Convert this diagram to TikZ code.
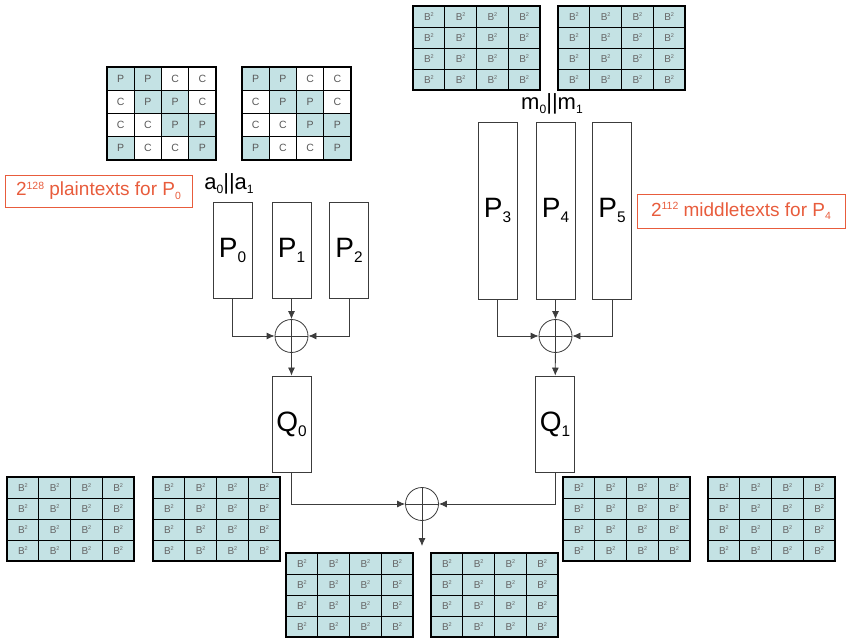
\documentclass[tikz,border=0pt]{standalone}
\usepackage{fontspec}
\setmainfont{Liberation Sans}
\usetikzlibrary{arrows.meta, positioning}
\definecolor{cellblue}{RGB}{196,226,228}
\definecolor{pcP}{RGB}{196,226,228}
\definecolor{pcC}{RGB}{255,255,255}
\definecolor{notered}{RGB}{232,92,60}
\definecolor{linegray}{RGB}{60,60,60}
\newcommand{\idx}[1]{\raisebox{-0.18em}{\scalebox{0.55}{#1}}}
\newcommand{\pw}[1]{\raisebox{0.33em}{\scalebox{0.55}{#1}}}

\begin{document}
\begin{tikzpicture}[x=1pt, y=-1pt,
    perm/.style={draw=linegray, line width=0.8pt, minimum width=39pt, inner sep=0pt, font=\fontsize{28}{28}\selectfont},
    xorop/.style={circle, draw=linegray, line width=0.8pt, minimum size=33pt, inner sep=0pt},
    arr/.style={draw=linegray, line width=0.8pt, -{Latex[length=8pt,width=7pt]}},
    bcell/.style={draw=black, fill=cellblue, line width=0.6pt, minimum width=31.75pt, minimum height=21pt, inner sep=0pt, text=black!60, font=\fontsize{10}{10}\selectfont},
    pcell/.style={draw=black, line width=0.6pt, minimum width=27.25pt, minimum height=23.25pt, inner sep=0pt, text=black!65, font=\fontsize{10.5}{10.5}\selectfont},
    note/.style={draw=notered, text=notered, line width=0.8pt, inner sep=0pt, font=\fontsize{19}{19}\selectfont},
    cat/.style={font=\fontsize{22}{22}\selectfont}]

    \useasboundingbox (0,0) rectangle (847,639);

    % P/C states
    \foreach \g/\gx in {pa/107, pb/242} {
        \foreach \r/\row in {0/{P,P,C,C}, 1/{C,P,P,C}, 2/{C,C,P,P}, 3/{P,C,C,P}} {
            \foreach \t [count=\c from 0] in \row {
                \node[pcell, fill=pc\t] (\g-\r\c) at (\gx+13.625+\c*27.25, 67+11.625+\r*23.25) {\t};
            }
        }
        \draw[line width=2.5pt] (\gx,67) rectangle ++(109,93);
    }

    % balanced states
    \foreach \g/\gx/\gy in {ba/413/6, bb/558/6, bc/7/477, bd/153/477, be/286/553, bf/431/553, bg/563/477, bh/708/477} {
        \foreach \r in {0,...,3} {
            \foreach \c in {0,...,3} {
                \node[bcell] (\g-\r\c) at (\gx+15.875+\c*31.75, \gy+10.5+\r*21) {B\pw{2}};
            }
        }
        \draw[line width=2.5pt] (\gx,\gy) rectangle ++(127,84);
    }

    % Permutations
    \node[perm, minimum height=96pt] (p0) at (232.5,250.5) {P\idx{0}};
    \node[perm, minimum height=96pt] (p1) at (291.5,250.5) {P\idx{1}};
    \node[perm, minimum height=96pt] (p2) at (349,250.5) {P\idx{2}};
    \node[perm, minimum height=177pt] (p3) at (497.5,210.5) {P\idx{3}};
    \node[perm, minimum height=177pt] (p4) at (555.5,210.5) {P\idx{4}};
    \node[perm, minimum height=177pt] (p5) at (612,210.5) {P\idx{5}};
    \node[perm, minimum height=96pt] (q0) at (291.5,424) {Q\idx{0}};
    \node[perm, minimum height=96pt] (q1) at (555,424) {Q\idx{1}};

    \node[xorop] (x1) at (291.5,336) {};
    \node[xorop] (x2) at (555.5,336) {};
    \node[xorop] (x3) at (422,504) {};
    \foreach \x in {x1,x2,x3}
        \draw[linegray, line width=0.8pt] (\x.north) -- (\x.south) (\x.west) -- (\x.east);
    \coordinate (res) at (422,546);

    % Labels
    \node[cat] (acat) at (229,184) {a\idx{0}||a\idx{1}};
    \node[cat] (mcat) at (552,104) {m\idx{0}||m\idx{1}};
    \node[note, minimum width=187pt, minimum height=32pt] (nl) at (98.5,191) {2\pw{128} plaintexts for P\idx{0}};
    \node[note, minimum width=208pt, minimum height=34pt] (nr) at (741,211) {2\pw{112} middletexts for P\idx{4}};

    % Connections
    \draw[arr] (p0) |- (x1);
    \draw[arr] (p1) -- (x1);
    \draw[arr] (p2) |- (x1);
    \draw[arr] (x1) -- (q0);
    \draw[arr] (p3) |- (x2);
    \draw[arr] (p4) -- (x2);
    \draw[arr] (p5) |- (x2);
    \draw[arr] (x2) -- (q1);
    \draw[arr] (q0) |- (x3);
    \draw[arr] (q1) |- (x3);
    \draw[arr] (x3) -- (res);
\end{tikzpicture}
\end{document}
